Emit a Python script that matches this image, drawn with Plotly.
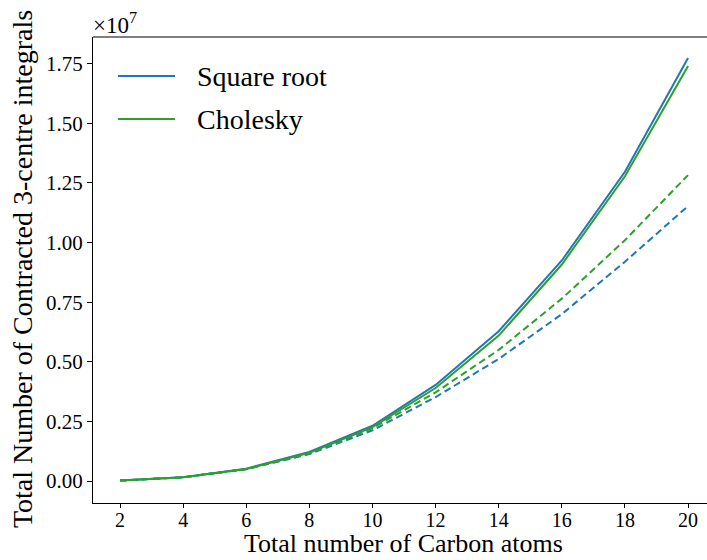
import plotly.graph_objects as go

# Number of carbon atoms in the chain
carbon_atoms = [2, 4, 6, 8, 10, 12, 14, 16, 18, 20]

# Contracted 3-centre integral counts, in units of 1e7
sqrt_full = [0.002, 0.016, 0.052, 0.122, 0.232, 0.403, 0.628, 0.925, 1.297, 1.774]
chol_full = [0.002, 0.016, 0.051, 0.118, 0.226, 0.390, 0.610, 0.908, 1.278, 1.740]
chol_screened = [0.002, 0.016, 0.050, 0.115, 0.222, 0.372, 0.550, 0.765, 1.010, 1.283]
sqrt_screened = [0.002, 0.016, 0.050, 0.113, 0.213, 0.352, 0.512, 0.700, 0.920, 1.153]

SCALE = 1e7
y_ticks = [0.0, 0.25, 0.5, 0.75, 1.0, 1.25, 1.5, 1.75]
y_tick_text = ["0.00", "0.25", "0.50", "0.75", "1.00", "1.25", "1.50", "1.75"]

series_names = ["Square root", "Cholesky"]
x_title = "Total number of Carbon atoms"
y_title = "Total Number of Contracted 3-centre integrals"
BLUE = "#1f77b4"
GREEN = "#2ca02c"
FONT = "Liberation Serif"


def scaled(vals):
    return [v * SCALE for v in vals]


fig = go.Figure()
fig.add_trace(go.Scatter(x=carbon_atoms, y=scaled(sqrt_screened), mode="lines",
                         line=dict(color=BLUE, width=2, dash="7px,4px"), showlegend=False))
fig.add_trace(go.Scatter(x=carbon_atoms, y=scaled(sqrt_full), mode="lines",
                         line=dict(color=BLUE, width=2), name=series_names[0], showlegend=False))
fig.add_trace(go.Scatter(x=carbon_atoms, y=scaled(chol_screened), mode="lines",
                         line=dict(color=GREEN, width=2, dash="7px,4px"), showlegend=False))
fig.add_trace(go.Scatter(x=carbon_atoms, y=scaled(chol_full), mode="lines",
                         line=dict(color=GREEN, width=2), name=series_names[1], showlegend=False))

# Hand-drawn legend in the upper-left corner
legend_rows = [(series_names[0], BLUE, 0.9163), (series_names[1], GREEN, 0.824)]
for label, color, yp in legend_rows:
    fig.add_shape(type="line", xref="paper", yref="paper", x0=0.0407, x1=0.1336, y0=yp, y1=yp,
                  line=dict(color=color, width=2))
    fig.add_annotation(xref="paper", yref="paper", x=0.166, y=yp, text=label, showarrow=False,
                       xanchor="left", yanchor="middle", font=dict(family=FONT, size=28, color="black"))

# Top frame line
fig.add_shape(type="line", xref="paper", yref="paper", x0=0, x1=1, y0=1, y1=1,
              line=dict(color="black", width=1.2))

# Offset text for the y axis
fig.add_annotation(xref="paper", yref="paper", x=-0.004, y=1.0, text="×10<sup>7</sup>", showarrow=False,
                   xanchor="left", yanchor="bottom", yshift=-3, font=dict(family=FONT, size=23, color="black"))

# Axis titles
fig.add_annotation(xref="paper", yref="paper", x=0.505, y=-0.1223, text=x_title, showarrow=False,
                   xanchor="center", yanchor="bottom", font=dict(family=FONT, size=26, color="black"))
fig.add_annotation(xref="paper", yref="paper", x=-0.1156, y=0.502, text=y_title, showarrow=False,
                   textangle=-90, xanchor="center", yanchor="middle",
                   font=dict(family=FONT, size=28, color="black"))

fig.update_layout(
    width=707, height=560,
    margin=dict(l=93, r=0, t=37, b=57),
    paper_bgcolor="white", plot_bgcolor="white",
    font=dict(family=FONT, size=21, color="black"),
    xaxis=dict(
        range=[1.144, 20.6], tickvals=carbon_atoms, ticks="outside", ticklen=4, tickwidth=1,
        tickcolor="black", showline=True, linecolor="black", linewidth=1.2,
        showgrid=False, zeroline=False, tickfont=dict(size=20), ticklabelstandoff=-5,
    ),
    yaxis=dict(
        range=[-0.092 * SCALE, 1.862 * SCALE], tickvals=scaled(y_ticks), ticktext=y_tick_text,
        ticks="outside", ticklen=5, tickwidth=1, tickcolor="black",
        showline=True, linecolor="black", linewidth=1.2, showgrid=False, zeroline=False,
    ),
)

fig.write_html("out.html")
